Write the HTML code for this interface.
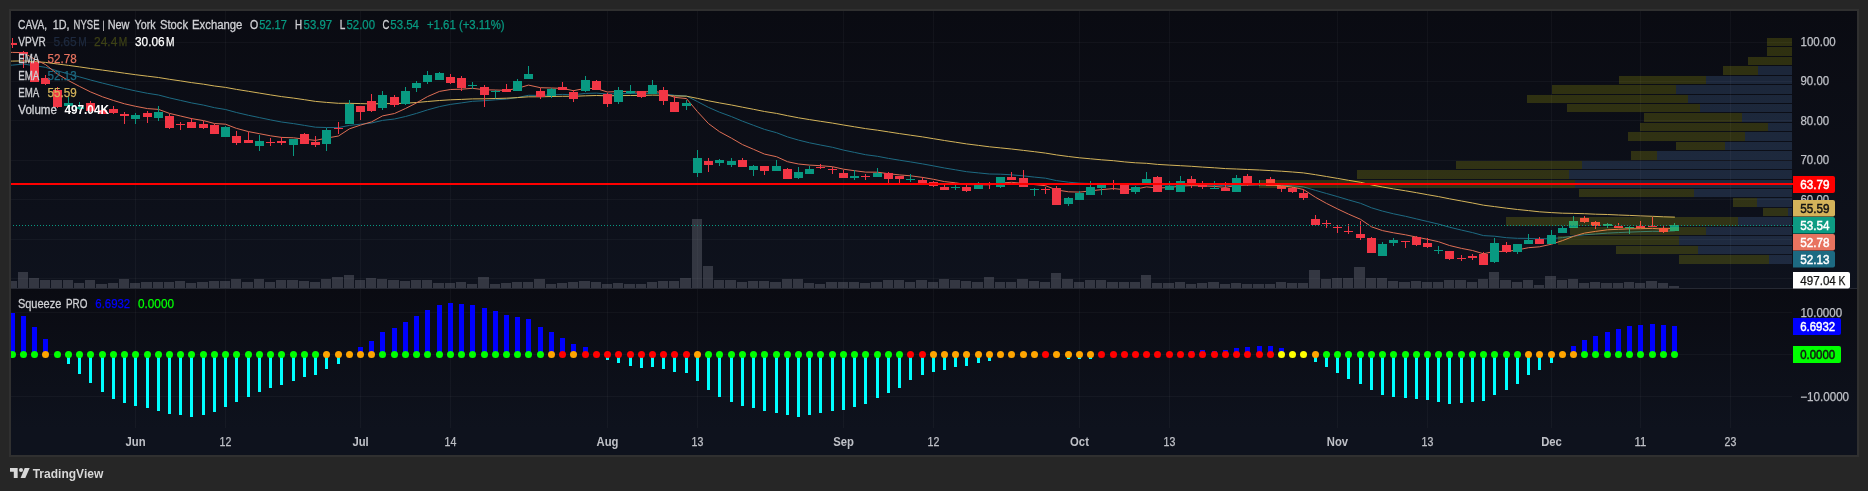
<!DOCTYPE html>
<html><head><meta charset="utf-8"><title>CAVA chart</title>
<style>html,body{margin:0;padding:0;background:#262626;overflow:hidden}body{width:1868px;height:491px;position:relative;font-family:"Liberation Sans",sans-serif}</style></head>
<body>
<svg width="1868" height="491" viewBox="0 0 1868 491" style="position:absolute;left:0;top:0;display:block;will-change:transform" font-family="Liberation Sans, sans-serif" font-size="12">
<defs><linearGradient id="bg" x1="0" y1="0" x2="0" y2="1"><stop offset="0" stop-color="#0a0b12"/><stop offset="1" stop-color="#0e121d"/></linearGradient><clipPath id="cp1"><rect x="11" y="11" width="1782" height="277"/></clipPath><clipPath id="cp2"><rect x="11" y="289" width="1782" height="139"/></clipPath></defs>
<rect x="9" y="9" width="1850" height="448" fill="#303030" shape-rendering="crispEdges"/>
<rect x="11" y="11" width="1846" height="277" fill="url(#bg)" shape-rendering="crispEdges"/>
<rect x="11" y="289" width="1846" height="139" fill="url(#bg)" shape-rendering="crispEdges"/>
<rect x="11" y="428" width="1846" height="27" fill="#0e121d" shape-rendering="crispEdges"/>
<g shape-rendering="crispEdges" fill="rgba(255,255,255,0.036)">
<rect x="135" y="11" width="1" height="417"/>
<rect x="225" y="11" width="1" height="417"/>
<rect x="360" y="11" width="1" height="417"/>
<rect x="450" y="11" width="1" height="417"/>
<rect x="607" y="11" width="1" height="417"/>
<rect x="697" y="11" width="1" height="417"/>
<rect x="843" y="11" width="1" height="417"/>
<rect x="933" y="11" width="1" height="417"/>
<rect x="1079" y="11" width="1" height="417"/>
<rect x="1169" y="11" width="1" height="417"/>
<rect x="1337" y="11" width="1" height="417"/>
<rect x="1427" y="11" width="1" height="417"/>
<rect x="1551" y="11" width="1" height="417"/>
<rect x="1640" y="11" width="1" height="417"/>
<rect x="1730" y="11" width="1" height="417"/>
<rect x="11" y="42" width="1781" height="1"/>
<rect x="11" y="81" width="1781" height="1"/>
<rect x="11" y="120" width="1781" height="1"/>
<rect x="11" y="160" width="1781" height="1"/>
<rect x="11" y="199" width="1781" height="1"/>
<rect x="11" y="239" width="1781" height="1"/>
<rect x="11" y="278" width="1781" height="1"/>
<rect x="11" y="312" width="1781" height="1"/>
<rect x="11" y="354" width="1781" height="1"/>
<rect x="11" y="396" width="1781" height="1"/>
</g>
<rect x="11" y="288" width="1846" height="1" fill="#262933" shape-rendering="crispEdges"/>
<g clip-path="url(#cp1)">
<g shape-rendering="crispEdges" fill="rgba(122,125,138,0.35)">
<rect x="7" y="281" width="10" height="7"/>
<rect x="18" y="272" width="10" height="16"/>
<rect x="29" y="278" width="10" height="10"/>
<rect x="40" y="280" width="10" height="8"/>
<rect x="51" y="280" width="11" height="8"/>
<rect x="63" y="280" width="10" height="8"/>
<rect x="74" y="283" width="10" height="5"/>
<rect x="85" y="280" width="10" height="8"/>
<rect x="96" y="284" width="11" height="4"/>
<rect x="108" y="283" width="10" height="5"/>
<rect x="119" y="279" width="10" height="9"/>
<rect x="130" y="283" width="10" height="5"/>
<rect x="141" y="282" width="11" height="6"/>
<rect x="153" y="282" width="10" height="6"/>
<rect x="164" y="282" width="10" height="6"/>
<rect x="175" y="281" width="10" height="7"/>
<rect x="186" y="283" width="10" height="5"/>
<rect x="197" y="282" width="11" height="6"/>
<rect x="209" y="281" width="10" height="7"/>
<rect x="220" y="281" width="10" height="7"/>
<rect x="231" y="279" width="10" height="9"/>
<rect x="242" y="282" width="11" height="6"/>
<rect x="254" y="279" width="10" height="9"/>
<rect x="265" y="282" width="10" height="6"/>
<rect x="276" y="280" width="10" height="8"/>
<rect x="287" y="280" width="11" height="8"/>
<rect x="299" y="281" width="10" height="7"/>
<rect x="310" y="282" width="10" height="6"/>
<rect x="321" y="279" width="10" height="9"/>
<rect x="332" y="277" width="11" height="11"/>
<rect x="344" y="275" width="10" height="13"/>
<rect x="355" y="280" width="10" height="8"/>
<rect x="366" y="278" width="10" height="10"/>
<rect x="377" y="279" width="10" height="9"/>
<rect x="388" y="280" width="11" height="8"/>
<rect x="400" y="281" width="10" height="7"/>
<rect x="411" y="280" width="10" height="8"/>
<rect x="422" y="280" width="10" height="8"/>
<rect x="433" y="283" width="11" height="5"/>
<rect x="445" y="283" width="10" height="5"/>
<rect x="456" y="282" width="10" height="6"/>
<rect x="467" y="284" width="10" height="4"/>
<rect x="478" y="277" width="11" height="11"/>
<rect x="490" y="284" width="10" height="4"/>
<rect x="501" y="283" width="10" height="5"/>
<rect x="512" y="282" width="10" height="6"/>
<rect x="523" y="282" width="10" height="6"/>
<rect x="534" y="279" width="11" height="9"/>
<rect x="546" y="284" width="10" height="4"/>
<rect x="557" y="283" width="10" height="5"/>
<rect x="568" y="282" width="10" height="6"/>
<rect x="579" y="281" width="11" height="7"/>
<rect x="591" y="282" width="10" height="6"/>
<rect x="602" y="284" width="10" height="4"/>
<rect x="613" y="283" width="10" height="5"/>
<rect x="624" y="284" width="11" height="4"/>
<rect x="636" y="284" width="10" height="4"/>
<rect x="647" y="282" width="10" height="6"/>
<rect x="658" y="281" width="10" height="7"/>
<rect x="669" y="281" width="10" height="7"/>
<rect x="680" y="278" width="11" height="10"/>
<rect x="692" y="219" width="10" height="69"/>
<rect x="703" y="266" width="10" height="22"/>
<rect x="714" y="280" width="10" height="8"/>
<rect x="725" y="280" width="11" height="8"/>
<rect x="737" y="282" width="10" height="6"/>
<rect x="748" y="281" width="10" height="7"/>
<rect x="759" y="281" width="10" height="7"/>
<rect x="770" y="282" width="11" height="6"/>
<rect x="782" y="279" width="10" height="9"/>
<rect x="793" y="279" width="10" height="9"/>
<rect x="804" y="283" width="10" height="5"/>
<rect x="815" y="284" width="10" height="4"/>
<rect x="826" y="282" width="11" height="6"/>
<rect x="838" y="282" width="10" height="6"/>
<rect x="849" y="282" width="10" height="6"/>
<rect x="860" y="283" width="10" height="5"/>
<rect x="871" y="282" width="11" height="6"/>
<rect x="883" y="280" width="10" height="8"/>
<rect x="894" y="280" width="10" height="8"/>
<rect x="905" y="282" width="10" height="6"/>
<rect x="916" y="280" width="11" height="8"/>
<rect x="928" y="282" width="10" height="6"/>
<rect x="939" y="279" width="10" height="9"/>
<rect x="950" y="280" width="10" height="8"/>
<rect x="961" y="281" width="10" height="7"/>
<rect x="972" y="282" width="11" height="6"/>
<rect x="984" y="277" width="10" height="11"/>
<rect x="995" y="282" width="10" height="6"/>
<rect x="1006" y="282" width="10" height="6"/>
<rect x="1017" y="279" width="11" height="9"/>
<rect x="1029" y="281" width="10" height="7"/>
<rect x="1040" y="282" width="10" height="6"/>
<rect x="1051" y="273" width="10" height="15"/>
<rect x="1062" y="279" width="11" height="9"/>
<rect x="1074" y="282" width="10" height="6"/>
<rect x="1085" y="280" width="10" height="8"/>
<rect x="1096" y="280" width="10" height="8"/>
<rect x="1107" y="282" width="11" height="6"/>
<rect x="1119" y="282" width="10" height="6"/>
<rect x="1130" y="282" width="10" height="6"/>
<rect x="1141" y="275" width="10" height="13"/>
<rect x="1152" y="283" width="10" height="5"/>
<rect x="1163" y="283" width="11" height="5"/>
<rect x="1175" y="282" width="10" height="6"/>
<rect x="1186" y="284" width="10" height="4"/>
<rect x="1197" y="283" width="10" height="5"/>
<rect x="1208" y="282" width="11" height="6"/>
<rect x="1220" y="284" width="10" height="4"/>
<rect x="1231" y="283" width="10" height="5"/>
<rect x="1242" y="284" width="10" height="4"/>
<rect x="1253" y="284" width="11" height="4"/>
<rect x="1265" y="284" width="10" height="4"/>
<rect x="1276" y="282" width="10" height="6"/>
<rect x="1287" y="283" width="10" height="5"/>
<rect x="1298" y="283" width="10" height="5"/>
<rect x="1309" y="270" width="11" height="18"/>
<rect x="1321" y="279" width="10" height="9"/>
<rect x="1332" y="278" width="10" height="10"/>
<rect x="1343" y="278" width="10" height="10"/>
<rect x="1354" y="267" width="11" height="21"/>
<rect x="1366" y="278" width="10" height="10"/>
<rect x="1377" y="278" width="10" height="10"/>
<rect x="1388" y="281" width="10" height="7"/>
<rect x="1399" y="282" width="11" height="6"/>
<rect x="1411" y="281" width="10" height="7"/>
<rect x="1422" y="282" width="10" height="6"/>
<rect x="1433" y="282" width="10" height="6"/>
<rect x="1444" y="280" width="10" height="8"/>
<rect x="1455" y="280" width="11" height="8"/>
<rect x="1467" y="282" width="10" height="6"/>
<rect x="1478" y="279" width="10" height="9"/>
<rect x="1489" y="272" width="10" height="16"/>
<rect x="1500" y="280" width="11" height="8"/>
<rect x="1512" y="282" width="10" height="6"/>
<rect x="1523" y="280" width="10" height="8"/>
<rect x="1534" y="285" width="10" height="3"/>
<rect x="1545" y="276" width="11" height="12"/>
<rect x="1557" y="280" width="10" height="8"/>
<rect x="1568" y="279" width="10" height="9"/>
<rect x="1579" y="283" width="10" height="5"/>
<rect x="1590" y="282" width="10" height="6"/>
<rect x="1601" y="283" width="11" height="5"/>
<rect x="1613" y="283" width="10" height="5"/>
<rect x="1624" y="282" width="10" height="6"/>
<rect x="1635" y="283" width="10" height="5"/>
<rect x="1646" y="281" width="11" height="7"/>
<rect x="1658" y="283" width="10" height="5"/>
<rect x="1669" y="286" width="10" height="2"/>
</g>
<polyline points="1.3,65.7 12.5,65.1 23.5,64.1 34.5,65.7 45.5,67.3 57.5,70.9 68.5,73.9 79.5,76.9 90.5,80.0 102.5,83.1 113.5,85.8 124.5,88.5 135.5,90.9 147.5,93.3 158.5,95.0 169.5,97.9 180.5,100.4 191.5,102.9 203.5,105.1 214.5,107.7 225.5,109.5 236.5,112.5 248.5,115.3 259.5,117.6 270.5,119.9 281.5,122.0 293.5,123.6 304.5,125.4 315.5,127.2 326.5,127.5 338.5,127.6 349.5,125.4 360.5,124.2 371.5,123.0 382.5,120.4 394.5,119.0 405.5,116.5 416.5,113.4 427.5,109.9 439.5,106.6 450.5,104.4 461.5,102.9 472.5,101.3 484.5,100.7 495.5,99.8 506.5,99.1 517.5,97.5 528.5,95.3 540.5,95.4 551.5,94.9 562.5,94.4 573.5,94.8 585.5,93.4 596.5,93.1 607.5,94.1 618.5,93.7 630.5,93.5 641.5,93.8 652.5,92.9 663.5,93.7 674.5,95.3 686.5,96.0 697.5,101.6 708.5,107.4 719.5,112.2 731.5,116.6 742.5,121.2 753.5,125.3 764.5,129.4 776.5,132.7 787.5,136.9 798.5,140.1 809.5,142.8 820.5,145.0 832.5,147.3 843.5,150.1 854.5,152.4 865.5,154.7 877.5,156.3 888.5,158.4 899.5,160.2 910.5,161.9 922.5,163.9 933.5,165.9 944.5,168.0 955.5,169.8 966.5,171.7 978.5,172.9 989.5,174.0 1000.5,174.2 1011.5,174.8 1023.5,175.9 1034.5,177.1 1045.5,178.2 1056.5,180.6 1068.5,182.2 1079.5,183.2 1090.5,183.5 1101.5,183.7 1113.5,183.8 1124.5,184.7 1135.5,184.9 1146.5,184.4 1157.5,185.1 1169.5,185.1 1180.5,184.8 1191.5,184.7 1202.5,184.9 1214.5,185.2 1225.5,185.7 1236.5,185.0 1247.5,184.9 1259.5,184.8 1270.5,184.9 1281.5,185.2 1292.5,185.8 1303.5,186.9 1315.5,190.4 1326.5,193.5 1337.5,196.6 1348.5,199.9 1360.5,203.3 1371.5,207.8 1382.5,211.1 1393.5,213.8 1405.5,216.3 1416.5,218.9 1427.5,221.5 1438.5,224.1 1449.5,227.2 1461.5,230.1 1472.5,232.6 1483.5,235.6 1494.5,236.2 1506.5,237.7 1517.5,238.3 1528.5,238.4 1539.5,238.9 1551.5,238.6 1562.5,237.6 1573.5,236.1 1584.5,234.8 1595.5,234.0 1607.5,233.1 1618.5,232.6 1629.5,232.1 1640.5,231.7 1652.5,231.3 1663.5,231.4 1674.5,230.8" fill="none" stroke="#1d6a82" stroke-width="1.0" stroke-linejoin="round" stroke-linecap="round"/>
<polyline points="1.3,61.3 12.5,61.1 23.5,60.9 34.5,61.6 45.5,62.4 57.5,64.0 68.5,65.4 79.5,66.9 90.5,68.5 102.5,70.1 113.5,71.6 124.5,73.2 135.5,74.7 147.5,76.2 158.5,77.5 169.5,79.3 180.5,80.9 191.5,82.6 203.5,84.2 214.5,86.0 225.5,87.4 236.5,89.4 248.5,91.3 259.5,93.1 270.5,94.9 281.5,96.6 293.5,98.1 304.5,99.7 315.5,101.4 326.5,102.4 338.5,103.3 349.5,103.3 360.5,103.6 371.5,103.9 382.5,103.6 394.5,103.6 405.5,103.2 416.5,102.5 427.5,101.5 439.5,100.5 450.5,99.8 461.5,99.4 472.5,98.9 484.5,98.8 495.5,98.5 506.5,98.2 517.5,97.6 528.5,96.8 540.5,96.8 551.5,96.5 562.5,96.3 573.5,96.3 585.5,95.8 596.5,95.5 607.5,95.8 618.5,95.6 630.5,95.5 641.5,95.5 652.5,95.1 663.5,95.3 674.5,95.9 686.5,96.2 697.5,98.4 708.5,100.8 719.5,102.9 731.5,105.0 742.5,107.2 753.5,109.3 764.5,111.5 776.5,113.4 787.5,115.7 798.5,117.8 809.5,119.6 820.5,121.3 832.5,123.1 843.5,125.0 854.5,126.8 865.5,128.6 877.5,130.2 888.5,131.9 899.5,133.6 910.5,135.2 922.5,136.9 933.5,138.7 944.5,140.5 955.5,142.2 966.5,143.9 978.5,145.4 989.5,146.8 1000.5,147.9 1011.5,149.0 1023.5,150.4 1034.5,151.7 1045.5,153.1 1056.5,154.9 1068.5,156.5 1079.5,157.8 1090.5,158.8 1101.5,159.8 1113.5,160.7 1124.5,161.9 1135.5,162.8 1146.5,163.3 1157.5,164.4 1169.5,165.1 1180.5,165.7 1191.5,166.3 1202.5,167.1 1214.5,167.8 1225.5,168.6 1236.5,169.0 1247.5,169.5 1259.5,170.0 1270.5,170.6 1281.5,171.2 1292.5,172.0 1303.5,172.9 1315.5,174.7 1326.5,176.5 1337.5,178.4 1348.5,180.3 1360.5,182.3 1371.5,184.9 1382.5,187.0 1393.5,188.9 1405.5,190.8 1416.5,192.7 1427.5,194.7 1438.5,196.6 1449.5,198.8 1461.5,201.0 1472.5,203.0 1483.5,205.2 1494.5,206.6 1506.5,208.2 1517.5,209.5 1528.5,210.6 1539.5,211.8 1551.5,212.6 1562.5,213.2 1573.5,213.4 1584.5,213.7 1595.5,214.2 1607.5,214.5 1618.5,215.0 1629.5,215.4 1640.5,215.9 1652.5,216.3 1663.5,216.8 1674.5,217.1" fill="none" stroke="#d4b45a" stroke-width="1.0" stroke-linejoin="round" stroke-linecap="round"/>
<polyline points="1.3,52.2 12.5,52.4 23.5,52.6 34.5,59.1 45.5,64.6 57.5,74.0 68.5,80.6 79.5,86.4 90.5,91.9 102.5,96.8 113.5,100.5 124.5,103.8 135.5,106.3 147.5,108.6 158.5,109.4 169.5,113.4 180.5,116.0 191.5,118.6 203.5,120.6 214.5,123.5 225.5,124.2 236.5,128.4 248.5,131.6 259.5,133.7 270.5,135.8 281.5,137.4 293.5,137.8 304.5,139.2 315.5,140.4 326.5,138.1 338.5,136.0 349.5,128.8 360.5,125.1 371.5,121.9 382.5,115.9 394.5,113.5 405.5,108.5 416.5,102.9 427.5,96.6 439.5,91.4 450.5,89.5 461.5,89.2 472.5,88.3 484.5,89.8 495.5,90.0 506.5,90.4 517.5,88.3 528.5,85.1 540.5,87.7 551.5,88.0 562.5,88.4 573.5,90.7 585.5,88.3 596.5,88.6 607.5,92.0 618.5,91.5 630.5,91.4 641.5,92.6 652.5,90.9 663.5,93.1 674.5,97.3 686.5,98.6 697.5,111.7 708.5,123.6 719.5,131.7 731.5,138.2 742.5,144.6 753.5,149.3 764.5,154.1 776.5,156.7 787.5,161.7 798.5,164.0 809.5,165.1 820.5,165.7 832.5,166.7 843.5,169.2 854.5,170.7 865.5,172.1 877.5,172.2 888.5,173.7 899.5,174.9 910.5,175.8 922.5,177.4 933.5,179.3 944.5,181.6 955.5,182.8 966.5,184.6 978.5,184.7 989.5,184.8 1000.5,183.0 1011.5,182.3 1023.5,183.4 1034.5,184.6 1045.5,185.7 1056.5,189.9 1068.5,191.8 1079.5,192.1 1090.5,190.9 1101.5,189.6 1113.5,188.6 1124.5,189.7 1135.5,189.1 1146.5,186.9 1157.5,188.0 1169.5,187.5 1180.5,186.1 1191.5,185.6 1202.5,185.9 1214.5,186.4 1225.5,187.4 1236.5,185.3 1247.5,185.0 1259.5,184.7 1270.5,184.9 1281.5,185.8 1292.5,187.1 1303.5,189.5 1315.5,197.3 1326.5,203.4 1337.5,208.9 1348.5,214.1 1360.5,219.3 1371.5,226.8 1382.5,230.6 1393.5,232.8 1405.5,234.8 1416.5,237.1 1427.5,239.3 1438.5,241.7 1449.5,245.5 1461.5,248.4 1472.5,250.5 1483.5,253.8 1494.5,251.3 1506.5,251.5 1517.5,249.9 1528.5,247.7 1539.5,246.8 1551.5,244.2 1562.5,240.6 1573.5,236.3 1584.5,233.1 1595.5,231.4 1607.5,229.8 1618.5,229.3 1629.5,228.8 1640.5,228.7 1652.5,228.4 1663.5,229.1 1674.5,228.3" fill="none" stroke="#de6e55" stroke-width="1.0" stroke-linejoin="round" stroke-linecap="round"/>
<g shape-rendering="crispEdges">
<rect x="12" y="38" width="1" height="10" fill="#f23645"/>
<rect x="8" y="43" width="9" height="2" fill="#f23645"/>
<rect x="23" y="51" width="1" height="17" fill="#f23645"/>
<rect x="19" y="52" width="9" height="2" fill="#f23645"/>
<rect x="34" y="59" width="1" height="23" fill="#f23645"/>
<rect x="30" y="62" width="9" height="20" fill="#f23645"/>
<rect x="45" y="75" width="1" height="10" fill="#f23645"/>
<rect x="41" y="78" width="9" height="6" fill="#f23645"/>
<rect x="57" y="87" width="1" height="21" fill="#f23645"/>
<rect x="53" y="90" width="9" height="17" fill="#f23645"/>
<rect x="68" y="97" width="1" height="13" fill="#089981"/>
<rect x="64" y="103" width="9" height="3" fill="#089981"/>
<rect x="79" y="102" width="1" height="8" fill="#089981"/>
<rect x="75" y="107" width="9" height="2" fill="#089981"/>
<rect x="90" y="101" width="1" height="11" fill="#f23645"/>
<rect x="86" y="103" width="9" height="8" fill="#f23645"/>
<rect x="102" y="107" width="1" height="7" fill="#f23645"/>
<rect x="98" y="110" width="9" height="4" fill="#f23645"/>
<rect x="113" y="106" width="1" height="8" fill="#f23645"/>
<rect x="109" y="109" width="9" height="4" fill="#f23645"/>
<rect x="124" y="112" width="1" height="12" fill="#f23645"/>
<rect x="120" y="114" width="9" height="2" fill="#f23645"/>
<rect x="135" y="113" width="1" height="11" fill="#089981"/>
<rect x="131" y="115" width="9" height="4" fill="#089981"/>
<rect x="147" y="111" width="1" height="12" fill="#f23645"/>
<rect x="143" y="113" width="9" height="4" fill="#f23645"/>
<rect x="158" y="106" width="1" height="15" fill="#089981"/>
<rect x="154" y="112" width="9" height="6" fill="#089981"/>
<rect x="169" y="114" width="1" height="15" fill="#f23645"/>
<rect x="165" y="116" width="9" height="12" fill="#f23645"/>
<rect x="180" y="122" width="1" height="8" fill="#f23645"/>
<rect x="176" y="124" width="9" height="1" fill="#f23645"/>
<rect x="191" y="118" width="1" height="10" fill="#f23645"/>
<rect x="187" y="122" width="9" height="6" fill="#f23645"/>
<rect x="203" y="121" width="1" height="8" fill="#f23645"/>
<rect x="199" y="124" width="9" height="4" fill="#f23645"/>
<rect x="214" y="124" width="1" height="10" fill="#f23645"/>
<rect x="210" y="125" width="9" height="9" fill="#f23645"/>
<rect x="225" y="126" width="1" height="11" fill="#089981"/>
<rect x="221" y="127" width="9" height="10" fill="#089981"/>
<rect x="236" y="131" width="1" height="14" fill="#f23645"/>
<rect x="232" y="136" width="9" height="7" fill="#f23645"/>
<rect x="248" y="132" width="1" height="11" fill="#f23645"/>
<rect x="244" y="140" width="9" height="3" fill="#f23645"/>
<rect x="259" y="135" width="1" height="16" fill="#089981"/>
<rect x="255" y="141" width="9" height="5" fill="#089981"/>
<rect x="270" y="138" width="1" height="8" fill="#f23645"/>
<rect x="266" y="142" width="9" height="1" fill="#f23645"/>
<rect x="281" y="137" width="1" height="8" fill="#f23645"/>
<rect x="277" y="141" width="9" height="2" fill="#f23645"/>
<rect x="293" y="139" width="1" height="17" fill="#089981"/>
<rect x="289" y="139" width="9" height="6" fill="#089981"/>
<rect x="304" y="133" width="1" height="11" fill="#f23645"/>
<rect x="300" y="134" width="9" height="10" fill="#f23645"/>
<rect x="315" y="136" width="1" height="11" fill="#f23645"/>
<rect x="311" y="142" width="9" height="3" fill="#f23645"/>
<rect x="326" y="128" width="1" height="23" fill="#089981"/>
<rect x="322" y="130" width="9" height="14" fill="#089981"/>
<rect x="338" y="122" width="1" height="12" fill="#f23645"/>
<rect x="334" y="128" width="9" height="1" fill="#f23645"/>
<rect x="349" y="100" width="1" height="24" fill="#089981"/>
<rect x="345" y="104" width="9" height="20" fill="#089981"/>
<rect x="360" y="106" width="1" height="14" fill="#f23645"/>
<rect x="356" y="106" width="9" height="6" fill="#f23645"/>
<rect x="371" y="94" width="1" height="18" fill="#f23645"/>
<rect x="367" y="101" width="9" height="10" fill="#f23645"/>
<rect x="382" y="91" width="1" height="19" fill="#089981"/>
<rect x="378" y="95" width="9" height="13" fill="#089981"/>
<rect x="394" y="95" width="1" height="12" fill="#f23645"/>
<rect x="390" y="97" width="9" height="8" fill="#f23645"/>
<rect x="405" y="87" width="1" height="18" fill="#089981"/>
<rect x="401" y="91" width="9" height="13" fill="#089981"/>
<rect x="416" y="81" width="1" height="11" fill="#089981"/>
<rect x="412" y="83" width="9" height="5" fill="#089981"/>
<rect x="427" y="71" width="1" height="13" fill="#089981"/>
<rect x="423" y="75" width="9" height="7" fill="#089981"/>
<rect x="439" y="72" width="1" height="8" fill="#089981"/>
<rect x="435" y="73" width="9" height="7" fill="#089981"/>
<rect x="450" y="74" width="1" height="10" fill="#f23645"/>
<rect x="446" y="77" width="9" height="6" fill="#f23645"/>
<rect x="461" y="76" width="1" height="15" fill="#f23645"/>
<rect x="457" y="78" width="9" height="10" fill="#f23645"/>
<rect x="472" y="82" width="1" height="7" fill="#089981"/>
<rect x="468" y="85" width="9" height="1" fill="#089981"/>
<rect x="484" y="85" width="1" height="22" fill="#f23645"/>
<rect x="480" y="87" width="9" height="8" fill="#f23645"/>
<rect x="495" y="90" width="1" height="8" fill="#089981"/>
<rect x="491" y="91" width="9" height="1" fill="#089981"/>
<rect x="506" y="84" width="1" height="8" fill="#f23645"/>
<rect x="502" y="89" width="9" height="3" fill="#f23645"/>
<rect x="517" y="79" width="1" height="12" fill="#089981"/>
<rect x="513" y="81" width="9" height="10" fill="#089981"/>
<rect x="528" y="66" width="1" height="13" fill="#089981"/>
<rect x="524" y="74" width="9" height="5" fill="#089981"/>
<rect x="540" y="88" width="1" height="11" fill="#f23645"/>
<rect x="536" y="91" width="9" height="6" fill="#f23645"/>
<rect x="551" y="88" width="1" height="10" fill="#089981"/>
<rect x="547" y="89" width="9" height="7" fill="#089981"/>
<rect x="562" y="82" width="1" height="8" fill="#f23645"/>
<rect x="558" y="87" width="9" height="3" fill="#f23645"/>
<rect x="573" y="90" width="1" height="12" fill="#f23645"/>
<rect x="569" y="92" width="9" height="7" fill="#f23645"/>
<rect x="585" y="76" width="1" height="16" fill="#089981"/>
<rect x="581" y="80" width="9" height="11" fill="#089981"/>
<rect x="596" y="80" width="1" height="10" fill="#f23645"/>
<rect x="592" y="81" width="9" height="9" fill="#f23645"/>
<rect x="607" y="93" width="1" height="14" fill="#f23645"/>
<rect x="603" y="94" width="9" height="10" fill="#f23645"/>
<rect x="618" y="87" width="1" height="17" fill="#089981"/>
<rect x="614" y="90" width="9" height="12" fill="#089981"/>
<rect x="630" y="85" width="1" height="9" fill="#089981"/>
<rect x="626" y="91" width="9" height="2" fill="#089981"/>
<rect x="641" y="91" width="1" height="7" fill="#f23645"/>
<rect x="637" y="91" width="9" height="6" fill="#f23645"/>
<rect x="652" y="80" width="1" height="14" fill="#089981"/>
<rect x="648" y="85" width="9" height="9" fill="#089981"/>
<rect x="663" y="87" width="1" height="18" fill="#f23645"/>
<rect x="659" y="90" width="9" height="11" fill="#f23645"/>
<rect x="674" y="96" width="1" height="16" fill="#f23645"/>
<rect x="670" y="102" width="9" height="10" fill="#f23645"/>
<rect x="686" y="100" width="1" height="10" fill="#089981"/>
<rect x="682" y="103" width="9" height="3" fill="#089981"/>
<rect x="697" y="150" width="1" height="27" fill="#089981"/>
<rect x="693" y="158" width="9" height="15" fill="#089981"/>
<rect x="708" y="158" width="1" height="14" fill="#f23645"/>
<rect x="704" y="161" width="9" height="4" fill="#f23645"/>
<rect x="719" y="159" width="1" height="7" fill="#089981"/>
<rect x="715" y="160" width="9" height="3" fill="#089981"/>
<rect x="731" y="158" width="1" height="9" fill="#089981"/>
<rect x="727" y="161" width="9" height="4" fill="#089981"/>
<rect x="742" y="158" width="1" height="9" fill="#f23645"/>
<rect x="738" y="160" width="9" height="7" fill="#f23645"/>
<rect x="753" y="165" width="1" height="11" fill="#089981"/>
<rect x="749" y="166" width="9" height="4" fill="#089981"/>
<rect x="764" y="166" width="1" height="9" fill="#f23645"/>
<rect x="760" y="166" width="9" height="5" fill="#f23645"/>
<rect x="776" y="160" width="1" height="11" fill="#089981"/>
<rect x="772" y="166" width="9" height="5" fill="#089981"/>
<rect x="787" y="168" width="1" height="11" fill="#f23645"/>
<rect x="783" y="169" width="9" height="10" fill="#f23645"/>
<rect x="798" y="167" width="1" height="12" fill="#089981"/>
<rect x="794" y="172" width="9" height="6" fill="#089981"/>
<rect x="809" y="166" width="1" height="8" fill="#089981"/>
<rect x="805" y="169" width="9" height="5" fill="#089981"/>
<rect x="820" y="164" width="1" height="5" fill="#f23645"/>
<rect x="816" y="167" width="9" height="1" fill="#f23645"/>
<rect x="832" y="167" width="1" height="7" fill="#f23645"/>
<rect x="828" y="169" width="9" height="1" fill="#f23645"/>
<rect x="843" y="170" width="1" height="8" fill="#f23645"/>
<rect x="839" y="173" width="9" height="5" fill="#f23645"/>
<rect x="854" y="170" width="1" height="10" fill="#089981"/>
<rect x="850" y="176" width="9" height="2" fill="#089981"/>
<rect x="865" y="174" width="1" height="6" fill="#f23645"/>
<rect x="861" y="176" width="9" height="1" fill="#f23645"/>
<rect x="877" y="168" width="1" height="9" fill="#089981"/>
<rect x="873" y="173" width="9" height="4" fill="#089981"/>
<rect x="888" y="172" width="1" height="11" fill="#f23645"/>
<rect x="884" y="173" width="9" height="6" fill="#f23645"/>
<rect x="899" y="176" width="1" height="7" fill="#f23645"/>
<rect x="895" y="176" width="9" height="3" fill="#f23645"/>
<rect x="910" y="174" width="1" height="8" fill="#089981"/>
<rect x="906" y="179" width="9" height="1" fill="#089981"/>
<rect x="922" y="177" width="1" height="6" fill="#f23645"/>
<rect x="918" y="180" width="9" height="3" fill="#f23645"/>
<rect x="933" y="181" width="1" height="6" fill="#f23645"/>
<rect x="929" y="182" width="9" height="4" fill="#f23645"/>
<rect x="944" y="185" width="1" height="5" fill="#f23645"/>
<rect x="940" y="187" width="9" height="3" fill="#f23645"/>
<rect x="955" y="185" width="1" height="5" fill="#089981"/>
<rect x="951" y="187" width="9" height="1" fill="#089981"/>
<rect x="966" y="185" width="1" height="7" fill="#f23645"/>
<rect x="962" y="187" width="9" height="4" fill="#f23645"/>
<rect x="978" y="182" width="1" height="7" fill="#089981"/>
<rect x="974" y="185" width="9" height="4" fill="#089981"/>
<rect x="989" y="182" width="1" height="7" fill="#f23645"/>
<rect x="985" y="184" width="9" height="1" fill="#f23645"/>
<rect x="1000" y="177" width="1" height="11" fill="#089981"/>
<rect x="996" y="177" width="9" height="10" fill="#089981"/>
<rect x="1011" y="172" width="1" height="8" fill="#f23645"/>
<rect x="1007" y="177" width="9" height="3" fill="#f23645"/>
<rect x="1023" y="170" width="1" height="17" fill="#f23645"/>
<rect x="1019" y="178" width="9" height="9" fill="#f23645"/>
<rect x="1034" y="188" width="1" height="8" fill="#089981"/>
<rect x="1030" y="189" width="9" height="1" fill="#089981"/>
<rect x="1045" y="187" width="1" height="7" fill="#f23645"/>
<rect x="1041" y="189" width="9" height="1" fill="#f23645"/>
<rect x="1056" y="186" width="1" height="19" fill="#f23645"/>
<rect x="1052" y="188" width="9" height="17" fill="#f23645"/>
<rect x="1068" y="197" width="1" height="9" fill="#089981"/>
<rect x="1064" y="198" width="9" height="6" fill="#089981"/>
<rect x="1079" y="191" width="1" height="9" fill="#089981"/>
<rect x="1075" y="193" width="9" height="7" fill="#089981"/>
<rect x="1090" y="181" width="1" height="14" fill="#089981"/>
<rect x="1086" y="187" width="9" height="8" fill="#089981"/>
<rect x="1101" y="185" width="1" height="10" fill="#089981"/>
<rect x="1097" y="185" width="9" height="3" fill="#089981"/>
<rect x="1113" y="180" width="1" height="10" fill="#f23645"/>
<rect x="1109" y="184" width="9" height="1" fill="#f23645"/>
<rect x="1124" y="185" width="1" height="9" fill="#f23645"/>
<rect x="1120" y="185" width="9" height="9" fill="#f23645"/>
<rect x="1135" y="186" width="1" height="8" fill="#089981"/>
<rect x="1131" y="187" width="9" height="5" fill="#089981"/>
<rect x="1146" y="172" width="1" height="12" fill="#089981"/>
<rect x="1142" y="179" width="9" height="5" fill="#089981"/>
<rect x="1157" y="176" width="1" height="16" fill="#f23645"/>
<rect x="1153" y="177" width="9" height="15" fill="#f23645"/>
<rect x="1169" y="181" width="1" height="9" fill="#089981"/>
<rect x="1165" y="186" width="9" height="4" fill="#089981"/>
<rect x="1180" y="176" width="1" height="16" fill="#089981"/>
<rect x="1176" y="181" width="9" height="11" fill="#089981"/>
<rect x="1191" y="176" width="1" height="12" fill="#f23645"/>
<rect x="1187" y="179" width="9" height="5" fill="#f23645"/>
<rect x="1202" y="181" width="1" height="8" fill="#f23645"/>
<rect x="1198" y="184" width="9" height="3" fill="#f23645"/>
<rect x="1214" y="181" width="1" height="8" fill="#089981"/>
<rect x="1210" y="188" width="9" height="1" fill="#089981"/>
<rect x="1225" y="182" width="1" height="9" fill="#f23645"/>
<rect x="1221" y="188" width="9" height="3" fill="#f23645"/>
<rect x="1236" y="175" width="1" height="17" fill="#089981"/>
<rect x="1232" y="178" width="9" height="14" fill="#089981"/>
<rect x="1247" y="174" width="1" height="12" fill="#f23645"/>
<rect x="1243" y="176" width="9" height="8" fill="#f23645"/>
<rect x="1259" y="180" width="1" height="6" fill="#089981"/>
<rect x="1255" y="184" width="9" height="1" fill="#089981"/>
<rect x="1270" y="177" width="1" height="9" fill="#f23645"/>
<rect x="1266" y="179" width="9" height="7" fill="#f23645"/>
<rect x="1281" y="186" width="1" height="6" fill="#f23645"/>
<rect x="1277" y="186" width="9" height="3" fill="#f23645"/>
<rect x="1292" y="187" width="1" height="6" fill="#f23645"/>
<rect x="1288" y="188" width="9" height="4" fill="#f23645"/>
<rect x="1303" y="189" width="1" height="11" fill="#f23645"/>
<rect x="1299" y="193" width="9" height="5" fill="#f23645"/>
<rect x="1315" y="215" width="1" height="10" fill="#f23645"/>
<rect x="1311" y="219" width="9" height="6" fill="#f23645"/>
<rect x="1326" y="220" width="1" height="8" fill="#f23645"/>
<rect x="1322" y="223" width="9" height="1" fill="#f23645"/>
<rect x="1337" y="225" width="1" height="8" fill="#f23645"/>
<rect x="1333" y="227" width="9" height="1" fill="#f23645"/>
<rect x="1348" y="224" width="1" height="10" fill="#f23645"/>
<rect x="1344" y="231" width="9" height="1" fill="#f23645"/>
<rect x="1360" y="221" width="1" height="19" fill="#f23645"/>
<rect x="1356" y="234" width="9" height="4" fill="#f23645"/>
<rect x="1371" y="237" width="1" height="16" fill="#f23645"/>
<rect x="1367" y="238" width="9" height="15" fill="#f23645"/>
<rect x="1382" y="242" width="1" height="14" fill="#089981"/>
<rect x="1378" y="244" width="9" height="12" fill="#089981"/>
<rect x="1393" y="238" width="1" height="8" fill="#089981"/>
<rect x="1389" y="240" width="9" height="3" fill="#089981"/>
<rect x="1405" y="241" width="1" height="7" fill="#f23645"/>
<rect x="1401" y="241" width="9" height="1" fill="#f23645"/>
<rect x="1416" y="236" width="1" height="10" fill="#f23645"/>
<rect x="1412" y="237" width="9" height="8" fill="#f23645"/>
<rect x="1427" y="238" width="1" height="10" fill="#f23645"/>
<rect x="1423" y="243" width="9" height="4" fill="#f23645"/>
<rect x="1438" y="246" width="1" height="8" fill="#089981"/>
<rect x="1434" y="250" width="9" height="1" fill="#089981"/>
<rect x="1449" y="251" width="1" height="9" fill="#f23645"/>
<rect x="1445" y="251" width="9" height="8" fill="#f23645"/>
<rect x="1461" y="255" width="1" height="6" fill="#f23645"/>
<rect x="1457" y="258" width="9" height="1" fill="#f23645"/>
<rect x="1472" y="254" width="1" height="6" fill="#f23645"/>
<rect x="1468" y="256" width="9" height="2" fill="#f23645"/>
<rect x="1483" y="252" width="1" height="13" fill="#f23645"/>
<rect x="1479" y="254" width="9" height="11" fill="#f23645"/>
<rect x="1494" y="238" width="1" height="25" fill="#089981"/>
<rect x="1490" y="243" width="9" height="19" fill="#089981"/>
<rect x="1506" y="242" width="1" height="11" fill="#f23645"/>
<rect x="1502" y="245" width="9" height="7" fill="#f23645"/>
<rect x="1517" y="244" width="1" height="10" fill="#089981"/>
<rect x="1513" y="244" width="9" height="8" fill="#089981"/>
<rect x="1528" y="234" width="1" height="10" fill="#089981"/>
<rect x="1524" y="240" width="9" height="4" fill="#089981"/>
<rect x="1539" y="237" width="1" height="7" fill="#f23645"/>
<rect x="1535" y="239" width="9" height="5" fill="#f23645"/>
<rect x="1551" y="230" width="1" height="14" fill="#089981"/>
<rect x="1547" y="235" width="9" height="9" fill="#089981"/>
<rect x="1562" y="226" width="1" height="7" fill="#089981"/>
<rect x="1558" y="228" width="9" height="5" fill="#089981"/>
<rect x="1573" y="216" width="1" height="12" fill="#089981"/>
<rect x="1569" y="221" width="9" height="7" fill="#089981"/>
<rect x="1584" y="216" width="1" height="7" fill="#f23645"/>
<rect x="1580" y="218" width="9" height="4" fill="#f23645"/>
<rect x="1595" y="221" width="1" height="8" fill="#f23645"/>
<rect x="1591" y="222" width="9" height="4" fill="#f23645"/>
<rect x="1607" y="223" width="1" height="5" fill="#089981"/>
<rect x="1603" y="224" width="9" height="2" fill="#089981"/>
<rect x="1618" y="223" width="1" height="5" fill="#f23645"/>
<rect x="1614" y="226" width="9" height="2" fill="#f23645"/>
<rect x="1629" y="226" width="1" height="8" fill="#089981"/>
<rect x="1625" y="227" width="9" height="1" fill="#089981"/>
<rect x="1640" y="221" width="1" height="7" fill="#f23645"/>
<rect x="1636" y="226" width="9" height="2" fill="#f23645"/>
<rect x="1652" y="217" width="1" height="10" fill="#f23645"/>
<rect x="1648" y="226" width="9" height="1" fill="#f23645"/>
<rect x="1663" y="226" width="1" height="7" fill="#f23645"/>
<rect x="1659" y="228" width="9" height="4" fill="#f23645"/>
<rect x="1674" y="223" width="1" height="8" fill="#089981"/>
<rect x="1670" y="225" width="9" height="6" fill="#089981"/>
</g>
<g shape-rendering="crispEdges">
<rect x="1767" y="38" width="25" height="8" fill="rgba(255,255,0,0.15)"/>
<rect x="1767" y="47" width="25" height="9" fill="rgba(255,255,0,0.15)"/>
<rect x="1748" y="57" width="44" height="8" fill="rgba(255,255,0,0.15)"/>
<rect x="1723" y="66" width="35" height="9" fill="rgba(255,255,0,0.15)"/>
<rect x="1758" y="66" width="34" height="9" fill="rgba(101,143,210,0.2)"/>
<rect x="1619" y="76" width="87" height="8" fill="rgba(255,255,0,0.15)"/>
<rect x="1706" y="76" width="86" height="8" fill="rgba(101,143,210,0.2)"/>
<rect x="1552" y="85" width="124" height="9" fill="rgba(255,255,0,0.15)"/>
<rect x="1676" y="85" width="116" height="9" fill="rgba(101,143,210,0.2)"/>
<rect x="1527" y="95" width="161" height="8" fill="rgba(255,255,0,0.15)"/>
<rect x="1688" y="95" width="104" height="8" fill="rgba(101,143,210,0.2)"/>
<rect x="1567" y="104" width="133" height="8" fill="rgba(255,255,0,0.15)"/>
<rect x="1700" y="104" width="92" height="8" fill="rgba(101,143,210,0.2)"/>
<rect x="1644" y="113" width="98" height="9" fill="rgba(255,255,0,0.15)"/>
<rect x="1742" y="113" width="50" height="9" fill="rgba(101,143,210,0.2)"/>
<rect x="1640" y="123" width="128" height="8" fill="rgba(255,255,0,0.15)"/>
<rect x="1768" y="123" width="24" height="8" fill="rgba(101,143,210,0.2)"/>
<rect x="1628" y="132" width="117" height="9" fill="rgba(255,255,0,0.15)"/>
<rect x="1745" y="132" width="47" height="9" fill="rgba(101,143,210,0.2)"/>
<rect x="1676" y="142" width="49" height="8" fill="rgba(255,255,0,0.15)"/>
<rect x="1725" y="142" width="67" height="8" fill="rgba(101,143,210,0.2)"/>
<rect x="1631" y="151" width="26" height="9" fill="rgba(255,255,0,0.15)"/>
<rect x="1657" y="151" width="135" height="9" fill="rgba(101,143,210,0.2)"/>
<rect x="1456" y="161" width="126" height="8" fill="rgba(255,255,0,0.15)"/>
<rect x="1582" y="161" width="210" height="8" fill="rgba(101,143,210,0.2)"/>
<rect x="1357" y="170" width="212" height="9" fill="rgba(255,255,0,0.15)"/>
<rect x="1569" y="170" width="223" height="9" fill="rgba(101,143,210,0.2)"/>
<rect x="1259" y="180" width="316" height="8" fill="rgba(255,255,0,0.15)"/>
<rect x="1575" y="180" width="217" height="8" fill="rgba(101,143,210,0.2)"/>
<rect x="1579" y="189" width="115" height="8" fill="rgba(255,255,0,0.15)"/>
<rect x="1694" y="189" width="98" height="8" fill="rgba(101,143,210,0.2)"/>
<rect x="1733" y="198" width="24" height="9" fill="rgba(255,255,0,0.15)"/>
<rect x="1757" y="198" width="35" height="9" fill="rgba(101,143,210,0.2)"/>
<rect x="1763" y="208" width="25" height="8" fill="rgba(255,255,0,0.15)"/>
<rect x="1788" y="208" width="4" height="8" fill="rgba(101,143,210,0.2)"/>
<rect x="1506" y="217" width="232" height="9" fill="rgba(255,255,0,0.15)"/>
<rect x="1738" y="217" width="54" height="9" fill="rgba(101,143,210,0.2)"/>
<rect x="1570" y="227" width="136" height="8" fill="rgba(255,255,0,0.15)"/>
<rect x="1706" y="227" width="86" height="8" fill="rgba(101,143,210,0.2)"/>
<rect x="1558" y="236" width="121" height="9" fill="rgba(255,255,0,0.15)"/>
<rect x="1679" y="236" width="113" height="9" fill="rgba(101,143,210,0.2)"/>
<rect x="1616" y="246" width="82" height="8" fill="rgba(255,255,0,0.15)"/>
<rect x="1698" y="246" width="94" height="8" fill="rgba(101,143,210,0.2)"/>
<rect x="1679" y="255" width="90" height="9" fill="rgba(255,255,0,0.15)"/>
<rect x="1769" y="255" width="23" height="9" fill="rgba(101,143,210,0.2)"/>
</g>
<rect x="11" y="183" width="1782" height="2" fill="#ff0000" shape-rendering="crispEdges"/>
<line x1="13" y1="225.5" x2="1793" y2="225.5" stroke="#089981" stroke-width="1" stroke-dasharray="1 2" shape-rendering="crispEdges"/>
</g>
<g clip-path="url(#cp2)">
<g shape-rendering="crispEdges">
<rect x="10" y="313" width="5" height="41" fill="#0000ff"/>
<rect x="21" y="316" width="5" height="38" fill="#0000ff"/>
<rect x="32" y="327" width="5" height="27" fill="#0000ff"/>
<rect x="43" y="339" width="5" height="15" fill="#0000ff"/>
<rect x="67" y="354" width="3" height="10" fill="#00ffff"/>
<rect x="78" y="354" width="3" height="20" fill="#00ffff"/>
<rect x="89" y="354" width="3" height="29" fill="#00ffff"/>
<rect x="101" y="354" width="3" height="38" fill="#00ffff"/>
<rect x="112" y="354" width="3" height="45" fill="#00ffff"/>
<rect x="123" y="354" width="3" height="49" fill="#00ffff"/>
<rect x="134" y="354" width="3" height="52" fill="#00ffff"/>
<rect x="146" y="354" width="3" height="54" fill="#00ffff"/>
<rect x="157" y="354" width="3" height="57" fill="#00ffff"/>
<rect x="168" y="354" width="3" height="60" fill="#00ffff"/>
<rect x="179" y="354" width="3" height="61" fill="#00ffff"/>
<rect x="190" y="354" width="3" height="63" fill="#00ffff"/>
<rect x="202" y="354" width="3" height="61" fill="#00ffff"/>
<rect x="213" y="354" width="3" height="58" fill="#00ffff"/>
<rect x="224" y="354" width="3" height="53" fill="#00ffff"/>
<rect x="235" y="354" width="3" height="48" fill="#00ffff"/>
<rect x="247" y="354" width="3" height="43" fill="#00ffff"/>
<rect x="258" y="354" width="3" height="38" fill="#00ffff"/>
<rect x="269" y="354" width="3" height="34" fill="#00ffff"/>
<rect x="280" y="354" width="3" height="31" fill="#00ffff"/>
<rect x="292" y="354" width="3" height="27" fill="#00ffff"/>
<rect x="303" y="354" width="3" height="23" fill="#00ffff"/>
<rect x="314" y="354" width="3" height="21" fill="#00ffff"/>
<rect x="325" y="354" width="3" height="15" fill="#00ffff"/>
<rect x="337" y="354" width="3" height="10" fill="#00ffff"/>
<rect x="358" y="347" width="5" height="7" fill="#0000ff"/>
<rect x="369" y="341" width="5" height="13" fill="#0000ff"/>
<rect x="380" y="332" width="5" height="22" fill="#0000ff"/>
<rect x="392" y="328" width="5" height="26" fill="#0000ff"/>
<rect x="403" y="322" width="5" height="32" fill="#0000ff"/>
<rect x="414" y="316" width="5" height="38" fill="#0000ff"/>
<rect x="425" y="310" width="5" height="44" fill="#0000ff"/>
<rect x="437" y="305" width="5" height="49" fill="#0000ff"/>
<rect x="448" y="303" width="5" height="51" fill="#0000ff"/>
<rect x="459" y="304" width="5" height="50" fill="#0000ff"/>
<rect x="470" y="305" width="5" height="49" fill="#0000ff"/>
<rect x="482" y="308" width="5" height="46" fill="#0000ff"/>
<rect x="493" y="311" width="5" height="43" fill="#0000ff"/>
<rect x="504" y="315" width="5" height="39" fill="#0000ff"/>
<rect x="515" y="317" width="5" height="37" fill="#0000ff"/>
<rect x="526" y="319" width="5" height="35" fill="#0000ff"/>
<rect x="538" y="327" width="5" height="27" fill="#0000ff"/>
<rect x="549" y="332" width="5" height="22" fill="#0000ff"/>
<rect x="560" y="338" width="5" height="16" fill="#0000ff"/>
<rect x="571" y="344" width="5" height="10" fill="#0000ff"/>
<rect x="583" y="347" width="5" height="7" fill="#0000ff"/>
<rect x="606" y="354" width="3" height="6" fill="#00ffff"/>
<rect x="617" y="354" width="3" height="9" fill="#00ffff"/>
<rect x="629" y="354" width="3" height="12" fill="#00ffff"/>
<rect x="640" y="354" width="3" height="14" fill="#00ffff"/>
<rect x="651" y="354" width="3" height="13" fill="#00ffff"/>
<rect x="662" y="354" width="3" height="15" fill="#00ffff"/>
<rect x="673" y="354" width="3" height="18" fill="#00ffff"/>
<rect x="685" y="354" width="3" height="19" fill="#00ffff"/>
<rect x="696" y="354" width="3" height="27" fill="#00ffff"/>
<rect x="707" y="354" width="3" height="36" fill="#00ffff"/>
<rect x="718" y="354" width="3" height="43" fill="#00ffff"/>
<rect x="730" y="354" width="3" height="48" fill="#00ffff"/>
<rect x="741" y="354" width="3" height="52" fill="#00ffff"/>
<rect x="752" y="354" width="3" height="54" fill="#00ffff"/>
<rect x="763" y="354" width="3" height="57" fill="#00ffff"/>
<rect x="775" y="354" width="3" height="59" fill="#00ffff"/>
<rect x="786" y="354" width="3" height="61" fill="#00ffff"/>
<rect x="797" y="354" width="3" height="63" fill="#00ffff"/>
<rect x="808" y="354" width="3" height="61" fill="#00ffff"/>
<rect x="819" y="354" width="3" height="59" fill="#00ffff"/>
<rect x="831" y="354" width="3" height="57" fill="#00ffff"/>
<rect x="842" y="354" width="3" height="56" fill="#00ffff"/>
<rect x="853" y="354" width="3" height="53" fill="#00ffff"/>
<rect x="864" y="354" width="3" height="50" fill="#00ffff"/>
<rect x="876" y="354" width="3" height="44" fill="#00ffff"/>
<rect x="887" y="354" width="3" height="39" fill="#00ffff"/>
<rect x="898" y="354" width="3" height="34" fill="#00ffff"/>
<rect x="909" y="354" width="3" height="26" fill="#00ffff"/>
<rect x="921" y="354" width="3" height="21" fill="#00ffff"/>
<rect x="932" y="354" width="3" height="18" fill="#00ffff"/>
<rect x="943" y="354" width="3" height="16" fill="#00ffff"/>
<rect x="954" y="354" width="3" height="13" fill="#00ffff"/>
<rect x="965" y="354" width="3" height="12" fill="#00ffff"/>
<rect x="977" y="354" width="3" height="9" fill="#00ffff"/>
<rect x="988" y="354" width="3" height="7" fill="#00ffff"/>
<rect x="1067" y="354" width="3" height="5" fill="#00ffff"/>
<rect x="1078" y="354" width="3" height="5" fill="#00ffff"/>
<rect x="1089" y="354" width="3" height="5" fill="#00ffff"/>
<rect x="1178" y="352" width="5" height="2" fill="#0000ff"/>
<rect x="1189" y="351" width="5" height="3" fill="#0000ff"/>
<rect x="1200" y="350" width="5" height="4" fill="#0000ff"/>
<rect x="1212" y="351" width="5" height="3" fill="#0000ff"/>
<rect x="1223" y="350" width="5" height="4" fill="#0000ff"/>
<rect x="1234" y="348" width="5" height="6" fill="#0000ff"/>
<rect x="1245" y="347" width="5" height="7" fill="#0000ff"/>
<rect x="1257" y="346" width="5" height="8" fill="#0000ff"/>
<rect x="1268" y="346" width="5" height="8" fill="#0000ff"/>
<rect x="1279" y="348" width="5" height="6" fill="#0000ff"/>
<rect x="1314" y="354" width="3" height="8" fill="#00ffff"/>
<rect x="1325" y="354" width="3" height="13" fill="#00ffff"/>
<rect x="1336" y="354" width="3" height="19" fill="#00ffff"/>
<rect x="1347" y="354" width="3" height="25" fill="#00ffff"/>
<rect x="1359" y="354" width="3" height="30" fill="#00ffff"/>
<rect x="1370" y="354" width="3" height="36" fill="#00ffff"/>
<rect x="1381" y="354" width="3" height="41" fill="#00ffff"/>
<rect x="1392" y="354" width="3" height="43" fill="#00ffff"/>
<rect x="1404" y="354" width="3" height="44" fill="#00ffff"/>
<rect x="1415" y="354" width="3" height="45" fill="#00ffff"/>
<rect x="1426" y="354" width="3" height="46" fill="#00ffff"/>
<rect x="1437" y="354" width="3" height="48" fill="#00ffff"/>
<rect x="1448" y="354" width="3" height="50" fill="#00ffff"/>
<rect x="1460" y="354" width="3" height="49" fill="#00ffff"/>
<rect x="1471" y="354" width="3" height="48" fill="#00ffff"/>
<rect x="1482" y="354" width="3" height="47" fill="#00ffff"/>
<rect x="1493" y="354" width="3" height="41" fill="#00ffff"/>
<rect x="1505" y="354" width="3" height="36" fill="#00ffff"/>
<rect x="1516" y="354" width="3" height="30" fill="#00ffff"/>
<rect x="1527" y="354" width="3" height="21" fill="#00ffff"/>
<rect x="1538" y="354" width="3" height="16" fill="#00ffff"/>
<rect x="1550" y="354" width="3" height="9" fill="#00ffff"/>
<rect x="1571" y="346" width="5" height="8" fill="#0000ff"/>
<rect x="1582" y="340" width="5" height="14" fill="#0000ff"/>
<rect x="1593" y="336" width="5" height="18" fill="#0000ff"/>
<rect x="1605" y="332" width="5" height="22" fill="#0000ff"/>
<rect x="1616" y="329" width="5" height="25" fill="#0000ff"/>
<rect x="1627" y="326" width="5" height="28" fill="#0000ff"/>
<rect x="1638" y="325" width="5" height="29" fill="#0000ff"/>
<rect x="1650" y="324" width="5" height="30" fill="#0000ff"/>
<rect x="1661" y="325" width="5" height="29" fill="#0000ff"/>
<rect x="1672" y="326" width="5" height="28" fill="#0000ff"/>
</g>
<circle cx="12.5" cy="354.5" r="3.5" fill="#00ff00"/>
<circle cx="23.5" cy="354.5" r="3.5" fill="#00ff00"/>
<circle cx="34.5" cy="354.5" r="3.5" fill="#00ff00"/>
<circle cx="45.5" cy="354.5" r="3.5" fill="#ffa500"/>
<circle cx="57.5" cy="354.5" r="3.5" fill="#00ff00"/>
<circle cx="68.5" cy="354.5" r="3.5" fill="#00ff00"/>
<circle cx="79.5" cy="354.5" r="3.5" fill="#00ff00"/>
<circle cx="90.5" cy="354.5" r="3.5" fill="#00ff00"/>
<circle cx="102.5" cy="354.5" r="3.5" fill="#00ff00"/>
<circle cx="113.5" cy="354.5" r="3.5" fill="#00ff00"/>
<circle cx="124.5" cy="354.5" r="3.5" fill="#00ff00"/>
<circle cx="135.5" cy="354.5" r="3.5" fill="#00ff00"/>
<circle cx="147.5" cy="354.5" r="3.5" fill="#00ff00"/>
<circle cx="158.5" cy="354.5" r="3.5" fill="#00ff00"/>
<circle cx="169.5" cy="354.5" r="3.5" fill="#00ff00"/>
<circle cx="180.5" cy="354.5" r="3.5" fill="#00ff00"/>
<circle cx="191.5" cy="354.5" r="3.5" fill="#00ff00"/>
<circle cx="203.5" cy="354.5" r="3.5" fill="#00ff00"/>
<circle cx="214.5" cy="354.5" r="3.5" fill="#00ff00"/>
<circle cx="225.5" cy="354.5" r="3.5" fill="#00ff00"/>
<circle cx="236.5" cy="354.5" r="3.5" fill="#00ff00"/>
<circle cx="248.5" cy="354.5" r="3.5" fill="#00ff00"/>
<circle cx="259.5" cy="354.5" r="3.5" fill="#00ff00"/>
<circle cx="270.5" cy="354.5" r="3.5" fill="#00ff00"/>
<circle cx="281.5" cy="354.5" r="3.5" fill="#00ff00"/>
<circle cx="293.5" cy="354.5" r="3.5" fill="#00ff00"/>
<circle cx="304.5" cy="354.5" r="3.5" fill="#00ff00"/>
<circle cx="315.5" cy="354.5" r="3.5" fill="#00ff00"/>
<circle cx="326.5" cy="354.5" r="3.5" fill="#ffa500"/>
<circle cx="338.5" cy="354.5" r="3.5" fill="#ffa500"/>
<circle cx="349.5" cy="354.5" r="3.5" fill="#ffa500"/>
<circle cx="360.5" cy="354.5" r="3.5" fill="#ffa500"/>
<circle cx="371.5" cy="354.5" r="3.5" fill="#ffa500"/>
<circle cx="382.5" cy="354.5" r="3.5" fill="#00ff00"/>
<circle cx="394.5" cy="354.5" r="3.5" fill="#00ff00"/>
<circle cx="405.5" cy="354.5" r="3.5" fill="#00ff00"/>
<circle cx="416.5" cy="354.5" r="3.5" fill="#00ff00"/>
<circle cx="427.5" cy="354.5" r="3.5" fill="#00ff00"/>
<circle cx="439.5" cy="354.5" r="3.5" fill="#00ff00"/>
<circle cx="450.5" cy="354.5" r="3.5" fill="#00ff00"/>
<circle cx="461.5" cy="354.5" r="3.5" fill="#00ff00"/>
<circle cx="472.5" cy="354.5" r="3.5" fill="#00ff00"/>
<circle cx="484.5" cy="354.5" r="3.5" fill="#00ff00"/>
<circle cx="495.5" cy="354.5" r="3.5" fill="#00ff00"/>
<circle cx="506.5" cy="354.5" r="3.5" fill="#00ff00"/>
<circle cx="517.5" cy="354.5" r="3.5" fill="#00ff00"/>
<circle cx="528.5" cy="354.5" r="3.5" fill="#00ff00"/>
<circle cx="540.5" cy="354.5" r="3.5" fill="#00ff00"/>
<circle cx="551.5" cy="354.5" r="3.5" fill="#ffa500"/>
<circle cx="562.5" cy="354.5" r="3.5" fill="#ff0000"/>
<circle cx="573.5" cy="354.5" r="3.5" fill="#ffa500"/>
<circle cx="585.5" cy="354.5" r="3.5" fill="#ff0000"/>
<circle cx="596.5" cy="354.5" r="3.5" fill="#ff0000"/>
<circle cx="607.5" cy="354.5" r="3.5" fill="#ff0000"/>
<circle cx="618.5" cy="354.5" r="3.5" fill="#ff0000"/>
<circle cx="630.5" cy="354.5" r="3.5" fill="#ff0000"/>
<circle cx="641.5" cy="354.5" r="3.5" fill="#ff0000"/>
<circle cx="652.5" cy="354.5" r="3.5" fill="#ff0000"/>
<circle cx="663.5" cy="354.5" r="3.5" fill="#ff0000"/>
<circle cx="674.5" cy="354.5" r="3.5" fill="#ff0000"/>
<circle cx="686.5" cy="354.5" r="3.5" fill="#ff0000"/>
<circle cx="697.5" cy="354.5" r="3.5" fill="#ffa500"/>
<circle cx="708.5" cy="354.5" r="3.5" fill="#00ff00"/>
<circle cx="719.5" cy="354.5" r="3.5" fill="#00ff00"/>
<circle cx="731.5" cy="354.5" r="3.5" fill="#00ff00"/>
<circle cx="742.5" cy="354.5" r="3.5" fill="#00ff00"/>
<circle cx="753.5" cy="354.5" r="3.5" fill="#00ff00"/>
<circle cx="764.5" cy="354.5" r="3.5" fill="#00ff00"/>
<circle cx="776.5" cy="354.5" r="3.5" fill="#00ff00"/>
<circle cx="787.5" cy="354.5" r="3.5" fill="#00ff00"/>
<circle cx="798.5" cy="354.5" r="3.5" fill="#00ff00"/>
<circle cx="809.5" cy="354.5" r="3.5" fill="#00ff00"/>
<circle cx="820.5" cy="354.5" r="3.5" fill="#00ff00"/>
<circle cx="832.5" cy="354.5" r="3.5" fill="#00ff00"/>
<circle cx="843.5" cy="354.5" r="3.5" fill="#00ff00"/>
<circle cx="854.5" cy="354.5" r="3.5" fill="#00ff00"/>
<circle cx="865.5" cy="354.5" r="3.5" fill="#00ff00"/>
<circle cx="877.5" cy="354.5" r="3.5" fill="#00ff00"/>
<circle cx="888.5" cy="354.5" r="3.5" fill="#00ff00"/>
<circle cx="899.5" cy="354.5" r="3.5" fill="#00ff00"/>
<circle cx="910.5" cy="354.5" r="3.5" fill="#ff0000"/>
<circle cx="922.5" cy="354.5" r="3.5" fill="#ff0000"/>
<circle cx="933.5" cy="354.5" r="3.5" fill="#ffa500"/>
<circle cx="944.5" cy="354.5" r="3.5" fill="#ffa500"/>
<circle cx="955.5" cy="354.5" r="3.5" fill="#ffa500"/>
<circle cx="966.5" cy="354.5" r="3.5" fill="#ffa500"/>
<circle cx="978.5" cy="354.5" r="3.5" fill="#ffa500"/>
<circle cx="989.5" cy="354.5" r="3.5" fill="#ffa500"/>
<circle cx="1000.5" cy="354.5" r="3.5" fill="#ffa500"/>
<circle cx="1011.5" cy="354.5" r="3.5" fill="#ffa500"/>
<circle cx="1023.5" cy="354.5" r="3.5" fill="#ffa500"/>
<circle cx="1034.5" cy="354.5" r="3.5" fill="#ffa500"/>
<circle cx="1045.5" cy="354.5" r="3.5" fill="#ff0000"/>
<circle cx="1056.5" cy="354.5" r="3.5" fill="#ffa500"/>
<circle cx="1068.5" cy="354.5" r="3.5" fill="#ffa500"/>
<circle cx="1079.5" cy="354.5" r="3.5" fill="#ffa500"/>
<circle cx="1090.5" cy="354.5" r="3.5" fill="#ffa500"/>
<circle cx="1101.5" cy="354.5" r="3.5" fill="#ff0000"/>
<circle cx="1113.5" cy="354.5" r="3.5" fill="#ff0000"/>
<circle cx="1124.5" cy="354.5" r="3.5" fill="#ff0000"/>
<circle cx="1135.5" cy="354.5" r="3.5" fill="#ff0000"/>
<circle cx="1146.5" cy="354.5" r="3.5" fill="#ff0000"/>
<circle cx="1157.5" cy="354.5" r="3.5" fill="#ff0000"/>
<circle cx="1169.5" cy="354.5" r="3.5" fill="#ff0000"/>
<circle cx="1180.5" cy="354.5" r="3.5" fill="#ff0000"/>
<circle cx="1191.5" cy="354.5" r="3.5" fill="#ff0000"/>
<circle cx="1202.5" cy="354.5" r="3.5" fill="#ff0000"/>
<circle cx="1214.5" cy="354.5" r="3.5" fill="#ff0000"/>
<circle cx="1225.5" cy="354.5" r="3.5" fill="#ff0000"/>
<circle cx="1236.5" cy="354.5" r="3.5" fill="#ff0000"/>
<circle cx="1247.5" cy="354.5" r="3.5" fill="#ff0000"/>
<circle cx="1259.5" cy="354.5" r="3.5" fill="#ff0000"/>
<circle cx="1270.5" cy="354.5" r="3.5" fill="#ff0000"/>
<circle cx="1281.5" cy="354.5" r="3.5" fill="#ffff00"/>
<circle cx="1292.5" cy="354.5" r="3.5" fill="#ffff00"/>
<circle cx="1303.5" cy="354.5" r="3.5" fill="#ffff00"/>
<circle cx="1315.5" cy="354.5" r="3.5" fill="#ffa500"/>
<circle cx="1326.5" cy="354.5" r="3.5" fill="#00ff00"/>
<circle cx="1337.5" cy="354.5" r="3.5" fill="#00ff00"/>
<circle cx="1348.5" cy="354.5" r="3.5" fill="#00ff00"/>
<circle cx="1360.5" cy="354.5" r="3.5" fill="#00ff00"/>
<circle cx="1371.5" cy="354.5" r="3.5" fill="#00ff00"/>
<circle cx="1382.5" cy="354.5" r="3.5" fill="#00ff00"/>
<circle cx="1393.5" cy="354.5" r="3.5" fill="#00ff00"/>
<circle cx="1405.5" cy="354.5" r="3.5" fill="#00ff00"/>
<circle cx="1416.5" cy="354.5" r="3.5" fill="#00ff00"/>
<circle cx="1427.5" cy="354.5" r="3.5" fill="#00ff00"/>
<circle cx="1438.5" cy="354.5" r="3.5" fill="#00ff00"/>
<circle cx="1449.5" cy="354.5" r="3.5" fill="#00ff00"/>
<circle cx="1461.5" cy="354.5" r="3.5" fill="#00ff00"/>
<circle cx="1472.5" cy="354.5" r="3.5" fill="#00ff00"/>
<circle cx="1483.5" cy="354.5" r="3.5" fill="#00ff00"/>
<circle cx="1494.5" cy="354.5" r="3.5" fill="#00ff00"/>
<circle cx="1506.5" cy="354.5" r="3.5" fill="#00ff00"/>
<circle cx="1517.5" cy="354.5" r="3.5" fill="#00ff00"/>
<circle cx="1528.5" cy="354.5" r="3.5" fill="#ffa500"/>
<circle cx="1539.5" cy="354.5" r="3.5" fill="#ffa500"/>
<circle cx="1551.5" cy="354.5" r="3.5" fill="#ffa500"/>
<circle cx="1562.5" cy="354.5" r="3.5" fill="#ffa500"/>
<circle cx="1573.5" cy="354.5" r="3.5" fill="#ffa500"/>
<circle cx="1584.5" cy="354.5" r="3.5" fill="#00ff00"/>
<circle cx="1595.5" cy="354.5" r="3.5" fill="#00ff00"/>
<circle cx="1607.5" cy="354.5" r="3.5" fill="#00ff00"/>
<circle cx="1618.5" cy="354.5" r="3.5" fill="#00ff00"/>
<circle cx="1629.5" cy="354.5" r="3.5" fill="#00ff00"/>
<circle cx="1640.5" cy="354.5" r="3.5" fill="#00ff00"/>
<circle cx="1652.5" cy="354.5" r="3.5" fill="#00ff00"/>
<circle cx="1663.5" cy="354.5" r="3.5" fill="#00ff00"/>
<circle cx="1674.5" cy="354.5" r="3.5" fill="#00ff00"/>
</g>
<text x="18.1" y="29.3" fill="#cfd0d4" textLength="29" lengthAdjust="spacingAndGlyphs" stroke="#cfd0d4" stroke-width="0.3" xml:space="preserve">CAVA,</text>
<text x="52.7" y="29.3" fill="#cfd0d4" textLength="16.8" lengthAdjust="spacingAndGlyphs" stroke="#cfd0d4" stroke-width="0.3" xml:space="preserve">1D,</text>
<text x="73.6" y="29.3" fill="#cfd0d4" textLength="25.9" lengthAdjust="spacingAndGlyphs" stroke="#cfd0d4" stroke-width="0.3" xml:space="preserve">NYSE</text>
<text x="107.7" y="29.3" fill="#cfd0d4" textLength="21.8" lengthAdjust="spacingAndGlyphs" stroke="#cfd0d4" stroke-width="0.3" xml:space="preserve">New</text>
<text x="134.6" y="29.3" fill="#cfd0d4" textLength="20.9" lengthAdjust="spacingAndGlyphs" stroke="#cfd0d4" stroke-width="0.3" xml:space="preserve">York</text>
<text x="160" y="29.3" fill="#cfd0d4" textLength="28" lengthAdjust="spacingAndGlyphs" stroke="#cfd0d4" stroke-width="0.3" xml:space="preserve">Stock</text>
<text x="192" y="29.3" fill="#cfd0d4" textLength="50.4" lengthAdjust="spacingAndGlyphs" stroke="#cfd0d4" stroke-width="0.3" xml:space="preserve">Exchange</text>
<rect x="103" y="20.6" width="1" height="10.4" fill="#cfd0d4" opacity="0.8"/>
<text x="250" y="29.3" fill="#cfd0d4" textLength="8.2" lengthAdjust="spacingAndGlyphs" stroke="#cfd0d4" stroke-width="0.3" xml:space="preserve">O</text>
<text x="259.2" y="29.3" fill="#089981" textLength="27.6" lengthAdjust="spacingAndGlyphs" stroke="#089981" stroke-width="0.25" xml:space="preserve">52.17</text>
<text x="295" y="29.3" fill="#cfd0d4" textLength="7.1" lengthAdjust="spacingAndGlyphs" stroke="#cfd0d4" stroke-width="0.3" xml:space="preserve">H</text>
<text x="303.6" y="29.3" fill="#089981" textLength="28.5" lengthAdjust="spacingAndGlyphs" stroke="#089981" stroke-width="0.25" xml:space="preserve">53.97</text>
<text x="339.7" y="29.3" fill="#cfd0d4" textLength="5.6" lengthAdjust="spacingAndGlyphs" stroke="#cfd0d4" stroke-width="0.3" xml:space="preserve">L</text>
<text x="346.5" y="29.3" fill="#089981" textLength="28.5" lengthAdjust="spacingAndGlyphs" stroke="#089981" stroke-width="0.25" xml:space="preserve">52.00</text>
<text x="382.4" y="29.3" fill="#cfd0d4" textLength="6.8" lengthAdjust="spacingAndGlyphs" stroke="#cfd0d4" stroke-width="0.3" xml:space="preserve">C</text>
<text x="390.3" y="29.3" fill="#089981" textLength="28.7" lengthAdjust="spacingAndGlyphs" stroke="#089981" stroke-width="0.25" xml:space="preserve">53.54</text>
<text x="426.9" y="29.3" fill="#089981" textLength="77.7" lengthAdjust="spacingAndGlyphs" stroke="#089981" stroke-width="0.25" xml:space="preserve">+1.61 (+3.11%)</text>
<text x="18.3" y="46.3" fill="#cfd0d4" textLength="27.4" lengthAdjust="spacingAndGlyphs" stroke="#cfd0d4" stroke-width="0.3" xml:space="preserve">VPVR</text>
<text x="53.4" y="46.3" fill="#1e2a3f" textLength="23.3" lengthAdjust="spacingAndGlyphs" stroke="#1e2a3f" stroke-width="0.25" xml:space="preserve">5.65</text>
<text x="78.2" y="46.3" fill="#1e2a3f" textLength="8.5" lengthAdjust="spacingAndGlyphs" stroke="#1e2a3f" stroke-width="0.25" xml:space="preserve">M</text>
<text x="94" y="46.3" fill="#3d4116" textLength="23.3" lengthAdjust="spacingAndGlyphs" stroke="#3d4116" stroke-width="0.25" xml:space="preserve">24.4</text>
<text x="118.8" y="46.3" fill="#3d4116" textLength="8.5" lengthAdjust="spacingAndGlyphs" stroke="#3d4116" stroke-width="0.25" xml:space="preserve">M</text>
<text x="135" y="46.3" fill="#ffffff" textLength="29.6" lengthAdjust="spacingAndGlyphs" stroke="#ffffff" stroke-width="0.25" xml:space="preserve">30.06</text>
<text x="166.1" y="46.3" fill="#ffffff" textLength="8.5" lengthAdjust="spacingAndGlyphs" stroke="#ffffff" stroke-width="0.25" xml:space="preserve">M</text>
<text x="18.3" y="63.3" fill="#cfd0d4" textLength="21" lengthAdjust="spacingAndGlyphs" stroke="#cfd0d4" stroke-width="0.3" xml:space="preserve">EMA</text>
<text x="47.5" y="63.3" fill="#e8735f" textLength="29.1" lengthAdjust="spacingAndGlyphs" stroke="#e8735f" stroke-width="0.25" xml:space="preserve">52.78</text>
<text x="18.3" y="80.3" fill="#cfd0d4" textLength="21" lengthAdjust="spacingAndGlyphs" stroke="#cfd0d4" stroke-width="0.3" xml:space="preserve">EMA</text>
<text x="47.5" y="80.3" fill="#1d6a82" textLength="29.1" lengthAdjust="spacingAndGlyphs" stroke="#1d6a82" stroke-width="0.25" xml:space="preserve">52.13</text>
<text x="18.3" y="97.3" fill="#cfd0d4" textLength="21" lengthAdjust="spacingAndGlyphs" stroke="#cfd0d4" stroke-width="0.3" xml:space="preserve">EMA</text>
<text x="47.5" y="97.3" fill="#d4b45a" textLength="29.1" lengthAdjust="spacingAndGlyphs" stroke="#d4b45a" stroke-width="0.25" xml:space="preserve">55.59</text>
<text x="18.3" y="114.3" fill="#cfd0d4" textLength="38.6" lengthAdjust="spacingAndGlyphs" stroke="#cfd0d4" stroke-width="0.3" xml:space="preserve">Volume</text>
<text x="64.4" y="114.3" fill="#ffffff" textLength="44.6" lengthAdjust="spacingAndGlyphs" font-weight="bold" xml:space="preserve">497.04K</text>
<text x="17.9" y="308.2" fill="#cfd0d4" textLength="43.4" lengthAdjust="spacingAndGlyphs" stroke="#cfd0d4" stroke-width="0.3" xml:space="preserve">Squeeze</text>
<text x="66" y="308.2" fill="#cfd0d4" textLength="21.4" lengthAdjust="spacingAndGlyphs" stroke="#cfd0d4" stroke-width="0.3" xml:space="preserve">PRO</text>
<text x="95.3" y="308.2" fill="#0000ff" textLength="34.9" lengthAdjust="spacingAndGlyphs" stroke="#0000ff" stroke-width="0.25" xml:space="preserve">6.6932</text>
<text x="138" y="308.2" fill="#00ff00" textLength="36" lengthAdjust="spacingAndGlyphs" stroke="#00ff00" stroke-width="0.25" xml:space="preserve">0.0000</text>
<text x="1800.5" y="46.099999999999994" fill="#bfc1c7" textLength="35.2" lengthAdjust="spacingAndGlyphs" stroke="#bfc1c7" stroke-width="0.25" xml:space="preserve">100.00</text>
<text x="1800.5" y="85.2" fill="#bfc1c7" textLength="28.6" lengthAdjust="spacingAndGlyphs" stroke="#bfc1c7" stroke-width="0.25" xml:space="preserve">90.00</text>
<text x="1800.5" y="124.7" fill="#bfc1c7" textLength="28.6" lengthAdjust="spacingAndGlyphs" stroke="#bfc1c7" stroke-width="0.25" xml:space="preserve">80.00</text>
<text x="1800.5" y="164.20000000000002" fill="#bfc1c7" textLength="28.6" lengthAdjust="spacingAndGlyphs" stroke="#bfc1c7" stroke-width="0.25" xml:space="preserve">70.00</text>
<text x="1800.5" y="203.9" fill="#bfc1c7" textLength="28.6" lengthAdjust="spacingAndGlyphs" stroke="#bfc1c7" stroke-width="0.25" xml:space="preserve">60.00</text>
<text x="1800.4" y="316.90000000000003" fill="#bfc1c7" textLength="41.7" lengthAdjust="spacingAndGlyphs" stroke="#bfc1c7" stroke-width="0.25" xml:space="preserve">10.0000</text>
<text x="1800.2" y="400.90000000000003" fill="#bfc1c7" textLength="48.9" lengthAdjust="spacingAndGlyphs" stroke="#bfc1c7" stroke-width="0.25" xml:space="preserve">−10.0000</text>
<path d="M1793,176h40a2,2 0 0 1 2,2v13a2,2 0 0 1 -2,2h-40z" fill="#ff0000"/>
<text x="1800.2" y="188.8" fill="#ffffff" textLength="29.2" lengthAdjust="spacingAndGlyphs" stroke="#ffffff" stroke-width="0.45" xml:space="preserve">63.79</text>
<path d="M1793,200h40a2,2 0 0 1 2,2v12.600000000000001a2,2 0 0 1 -2,2h-40z" fill="#d4b35a"/>
<text x="1800.2" y="212.60000000000002" fill="#141414" textLength="29.2" lengthAdjust="spacingAndGlyphs" stroke="#141414" stroke-width="0.45" xml:space="preserve">55.59</text>
<path d="M1793,217h40a2,2 0 0 1 2,2v12.600000000000001a2,2 0 0 1 -2,2h-40z" fill="#0d9c83"/>
<text x="1800.2" y="229.60000000000002" fill="#ffffff" textLength="29.2" lengthAdjust="spacingAndGlyphs" stroke="#ffffff" stroke-width="0.45" xml:space="preserve">53.54</text>
<path d="M1793,234h40a2,2 0 0 1 2,2v12.600000000000001a2,2 0 0 1 -2,2h-40z" fill="#e8735f"/>
<text x="1800.2" y="246.60000000000002" fill="#ffffff" textLength="29.2" lengthAdjust="spacingAndGlyphs" stroke="#ffffff" stroke-width="0.45" xml:space="preserve">52.78</text>
<path d="M1793,251h40a2,2 0 0 1 2,2v12.600000000000001a2,2 0 0 1 -2,2h-40z" fill="#1d6a82"/>
<text x="1800.2" y="263.6" fill="#ffffff" textLength="29.2" lengthAdjust="spacingAndGlyphs" stroke="#ffffff" stroke-width="0.45" xml:space="preserve">52.13</text>
<path d="M1793,272h55a2,2 0 0 1 2,2v12.5a2,2 0 0 1 -2,2h-55z" fill="#ffffff"/>
<text x="1800.3" y="284.55" fill="#141414" textLength="35.5" lengthAdjust="spacingAndGlyphs" stroke="#141414" stroke-width="0.25" xml:space="preserve">497.04</text>
<text x="1838.5" y="284.55" fill="#141414" textLength="6.9" lengthAdjust="spacingAndGlyphs" stroke="#141414" stroke-width="0.25" xml:space="preserve">K</text>
<path d="M1793,318h46a2,2 0 0 1 2,2v13a2,2 0 0 1 -2,2h-46z" fill="#0000ff"/>
<text x="1800.2" y="330.8" fill="#ffffff" textLength="34.9" lengthAdjust="spacingAndGlyphs" stroke="#ffffff" stroke-width="0.45" xml:space="preserve">6.6932</text>
<path d="M1793,346h46a2,2 0 0 1 2,2v13a2,2 0 0 1 -2,2h-46z" fill="#00ff00"/>
<text x="1800.2" y="358.8" fill="#141414" textLength="34.9" lengthAdjust="spacingAndGlyphs" stroke="#141414" stroke-width="0.45" xml:space="preserve">0.0000</text>
<text x="125.5" y="446.2" fill="#bfc1c7" textLength="20.0596" lengthAdjust="spacingAndGlyphs" font-weight="bold" xml:space="preserve">Jun</text>
<text x="219.6" y="446.2" fill="#bfc1c7" textLength="11.8" lengthAdjust="spacingAndGlyphs" stroke="#bfc1c7" stroke-width="0.25" xml:space="preserve">12</text>
<text x="352.4" y="446.2" fill="#bfc1c7" textLength="16.262" lengthAdjust="spacingAndGlyphs" font-weight="bold" xml:space="preserve">Jul</text>
<text x="444.6" y="446.2" fill="#bfc1c7" textLength="11.8" lengthAdjust="spacingAndGlyphs" stroke="#bfc1c7" stroke-width="0.25" xml:space="preserve">14</text>
<text x="596.5" y="446.2" fill="#bfc1c7" textLength="21.902" lengthAdjust="spacingAndGlyphs" font-weight="bold" xml:space="preserve">Aug</text>
<text x="691.6" y="446.2" fill="#bfc1c7" textLength="11.8" lengthAdjust="spacingAndGlyphs" stroke="#bfc1c7" stroke-width="0.25" xml:space="preserve">13</text>
<text x="833.2" y="446.2" fill="#bfc1c7" textLength="20.68" lengthAdjust="spacingAndGlyphs" font-weight="bold" xml:space="preserve">Sep</text>
<text x="927.6" y="446.2" fill="#bfc1c7" textLength="11.8" lengthAdjust="spacingAndGlyphs" stroke="#bfc1c7" stroke-width="0.25" xml:space="preserve">12</text>
<text x="1070.1" y="446.2" fill="#bfc1c7" textLength="18.799999999999997" lengthAdjust="spacingAndGlyphs" font-weight="bold" xml:space="preserve">Oct</text>
<text x="1163.6" y="446.2" fill="#bfc1c7" textLength="11.8" lengthAdjust="spacingAndGlyphs" stroke="#bfc1c7" stroke-width="0.25" xml:space="preserve">13</text>
<text x="1326.8" y="446.2" fill="#bfc1c7" textLength="21.3098" lengthAdjust="spacingAndGlyphs" font-weight="bold" xml:space="preserve">Nov</text>
<text x="1421.6" y="446.2" fill="#bfc1c7" textLength="11.8" lengthAdjust="spacingAndGlyphs" stroke="#bfc1c7" stroke-width="0.25" xml:space="preserve">13</text>
<text x="1541.2" y="446.2" fill="#bfc1c7" textLength="20.68" lengthAdjust="spacingAndGlyphs" font-weight="bold" xml:space="preserve">Dec</text>
<text x="1634.6" y="446.2" fill="#bfc1c7" textLength="11.8" lengthAdjust="spacingAndGlyphs" stroke="#bfc1c7" stroke-width="0.25" xml:space="preserve">11</text>
<text x="1724.6" y="446.2" fill="#bfc1c7" textLength="11.8" lengthAdjust="spacingAndGlyphs" stroke="#bfc1c7" stroke-width="0.25" xml:space="preserve">23</text>
<g fill="#d8d8d8"><path d="M10,467.9h7.66v10h-3.86v-6.2h-3.8z"/><circle cx="21" cy="470" r="2.05"/><path d="M24.7,467.9L29.7,467.9L25.3,477.9L20.6,477.9Z"/></g>
<text x="32.7" y="477.9" fill="#d8d8d8" textLength="70.6" lengthAdjust="spacingAndGlyphs" font-weight="bold" font-size="13" xml:space="preserve">TradingView</text>
</svg>
</body></html>
